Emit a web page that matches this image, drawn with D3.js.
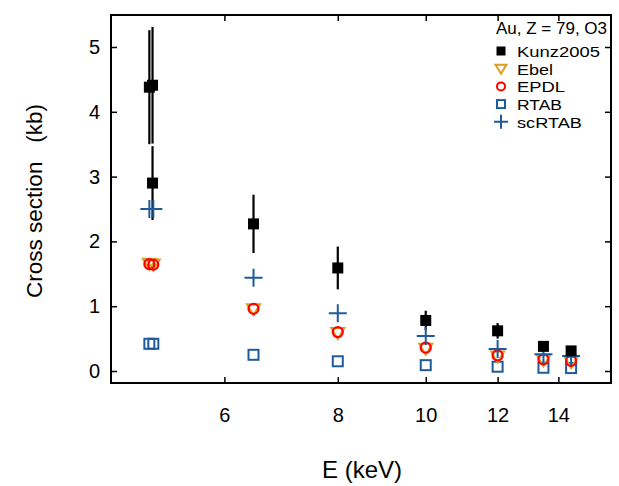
<!DOCTYPE html>
<html><head><meta charset="utf-8">
<script src="https://cdn.jsdelivr.net/npm/d3@7"></script>
<style>body{margin:0;background:#fff}svg{display:block;font-family:"Liberation Sans",Arial,sans-serif}</style>
</head><body><svg id="c" width="619" height="486"></svg>
<script>
const kunzE = [4.96, 5.0, 5.0, 6.46, 8.0, 10.0, 12.0, 13.48, 14.46];
const kunz = [4.38, 4.41, 2.90, 2.27, 1.59, 0.78, 0.62, 0.38, 0.31];
const kunzErr = [0.88, 0.90, 0.57, 0.45, 0.33, 0.15, 0.12, 0.05, 0.05];
const calcE = [4.96, 5.01, 6.46, 8.0, 10.0, 12.0, 13.48, 14.46];
const ebel = [1.67, 1.66, 0.97, 0.60, 0.36, 0.24, 0.18, 0.155];
const epdl = [1.65, 1.64, 0.96, 0.60, 0.36, 0.24, 0.18, 0.155];
const rtab = [0.42, 0.42, 0.25, 0.15, 0.09, 0.066, 0.05, 0.045];
const scrtab = [2.50, 2.50, 1.44, 0.89, 0.54, 0.34, 0.26, 0.23];
const xTicks = [6, 8, 10, 12, 14];
const yTicks = [0, 1, 2, 3, 4, 5];
const legendLabels = ["Kunz2005", "Ebel", "EPDL", "RTAB", "scRTAB"];

const svg = d3.select("#c");
const L = 111, R = 611, T = 15, B = 383;
const x = d3.scaleLog().domain([4.5, 16]).range([L, R]);
const y = d3.scaleLinear().domain([0, 5]).range([371, 47]);
const blue = "#1f5b9c", orange = "#d9a020", red = "#ff0000";

// frame
svg.append("rect").attr("x", L).attr("y", T).attr("width", R - L).attr("height", B - T)
  .attr("fill", "none").attr("stroke", "#000").attr("stroke-width", 2);

// axes with inward ticks
svg.append("g").attr("transform", `translate(0,${B})`)
  .call(d3.axisBottom(x).tickValues(xTicks).tickFormat(d3.format("d")).tickSizeInner(-6).tickSizeOuter(0).tickPadding(25));
svg.append("g").attr("transform", `translate(0,${T})`)
  .call(d3.axisTop(x).tickValues(xTicks).tickFormat("").tickSizeInner(-6).tickSizeOuter(0));
svg.append("g").attr("transform", `translate(${L},0)`)
  .call(d3.axisLeft(y).tickValues(yTicks).tickFormat(d3.format("d")).tickSizeInner(-6).tickSizeOuter(0).tickPadding(11));
svg.append("g").attr("transform", `translate(${R},0)`)
  .call(d3.axisRight(y).tickValues(yTicks).tickFormat("").tickSizeInner(-6).tickSizeOuter(0));
svg.selectAll(".domain").remove();
svg.selectAll(".tick line").attr("stroke", "#000").attr("stroke-width", 1.5);
svg.selectAll(".tick text").attr("font-size", 20).attr("fill", "#000").attr("font-family", "Liberation Sans, Arial, sans-serif");

// axis titles
svg.append("text").attr("x", 362).attr("y", 478).attr("text-anchor", "middle")
  .attr("font-size", 24).text("E (keV)");
svg.append("text").attr("transform", "translate(42,201) rotate(-90)").attr("text-anchor", "middle")
  .attr("font-size", 22.5).style("white-space", "pre").text("Cross section   (kb)");

// error bars
const g = svg.append("g");
kunz.forEach((v, i) => {
  g.append("line").attr("x1", x(kunzE[i])).attr("x2", x(kunzE[i]))
    .attr("y1", y(v - kunzErr[i])).attr("y2", y(v + kunzErr[i]))
    .attr("stroke", "#000").attr("stroke-width", 2.2);
});

// RTAB squares
rtab.forEach((v, i) => {
  g.append("rect").attr("x", x(calcE[i]) - 5).attr("y", y(v) - 5).attr("width", 10).attr("height", 10)
    .attr("fill", "none").attr("stroke", blue).attr("stroke-width", 2);
});
// Ebel triangles (down)
ebel.forEach((v, i) => {
  const cx = x(calcE[i]), cy = y(v);
  g.append("path").attr("d", `M${cx - 6.5},${cy - 4} L${cx + 6.5},${cy - 4} L${cx},${cy + 7} Z`)
    .attr("fill", "none").attr("stroke", orange).attr("stroke-width", 2);
});
// EPDL circles
epdl.forEach((v, i) => {
  g.append("circle").attr("cx", x(calcE[i])).attr("cy", y(v)).attr("r", 5)
    .attr("fill", "none").attr("stroke", red).attr("stroke-width", 2.2);
});
// scRTAB plus
scrtab.forEach((v, i) => {
  const cx = x(calcE[i]), cy = y(v);
  g.append("path").attr("d", `M${cx - 9},${cy} H${cx + 9} M${cx},${cy - 9} V${cy + 9}`)
    .attr("stroke", blue).attr("stroke-width", 2);
});
// Kunz filled squares
kunz.forEach((v, i) => {
  g.append("rect").attr("x", x(kunzE[i]) - 5.5).attr("y", y(v) - 5.5).attr("width", 11).attr("height", 11)
    .attr("fill", "#000");
});

// legend
svg.append("text").attr("x", 607).attr("y", 34).attr("text-anchor", "end").attr("font-size", 17)
  .text("Au, Z = 79, O3");
const lx = 501, ly0 = 51, dy = 17.7;
const legendWidths = [83, 36, 48, 45, 65];
legendLabels.forEach((lab, i) => {
  const cy = ly0 + i * dy;
  if (i === 0) svg.append("rect").attr("x", lx - 4.5).attr("y", cy - 4.5).attr("width", 9).attr("height", 9).attr("fill", "#000");
  if (i === 1) svg.append("path").attr("d", `M${lx - 5.5},${cy - 4} L${lx + 5.5},${cy - 4} L${lx},${cy + 5} Z`).attr("fill", "none").attr("stroke", orange).attr("stroke-width", 2);
  if (i === 2) svg.append("circle").attr("cx", lx).attr("cy", cy).attr("r", 4).attr("fill", "none").attr("stroke", red).attr("stroke-width", 2);
  if (i === 3) svg.append("rect").attr("x", lx - 4).attr("y", cy - 4).attr("width", 8).attr("height", 8).attr("fill", "none").attr("stroke", blue).attr("stroke-width", 2);
  if (i === 4) svg.append("path").attr("d", `M${lx - 7},${cy} H${lx + 7} M${lx},${cy - 7} V${cy + 7}`).attr("stroke", blue).attr("stroke-width", 2);
  svg.append("text").attr("x", 517).attr("y", cy + 6).attr("font-size", 15.5)
    .attr("textLength", legendWidths[i]).attr("lengthAdjust", "spacingAndGlyphs").text(lab);
});
</script></body></html>
